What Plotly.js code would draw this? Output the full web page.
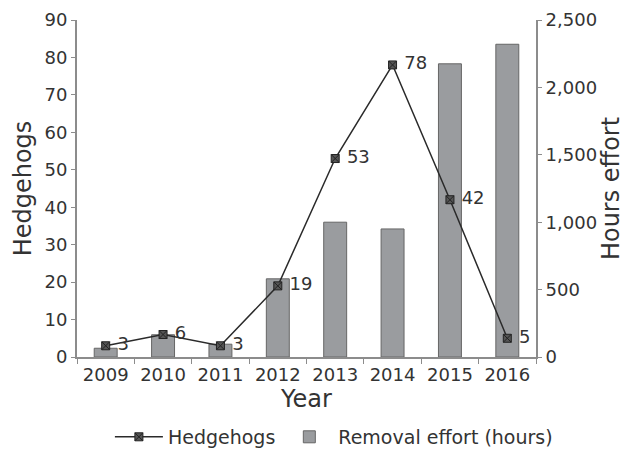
<!DOCTYPE html>
<html><head><meta charset="utf-8">
<script src="https://cdn.plot.ly/plotly-3.0.1.min.js"></script>
<style>body{margin:0;background:#fff}#c{width:630px;height:450px}</style>
</head><body><div id="c"></div>
<script>
const years = ['2009','2010','2011','2012','2013','2014','2015','2016'];
const hedgehogs = [3, 6, 3, 19, 53, 78, 42, 5];
const effortHours = [65, 165, 95, 580, 1000, 950, 2175, 2320];
const hedgehogLabels = hedgehogs.map(v => ' ' + v);

const FONT = 'DejaVu Sans, Liberation Sans, Arial, sans-serif';
const TXT = '#333';
const AX = '#8c8c8c';
const data = [
  {type: 'scatter', mode: 'lines+markers+text', x: years, y: hedgehogs, yaxis: 'y2', name: 'Hedgehogs',
   text: hedgehogLabels, textposition: 'middle right', textfont: {size: 18, color: TXT, family: FONT},
   line: {color: '#2a2a2a', width: 1.5},
   marker: {symbol: 'square-x', size: 8, color: '#555', line: {color: '#222', width: 1}}},
  {type: 'bar', x: years, y: effortHours, yaxis: 'y', name: 'Removal effort (hours)',
   width: 0.4, marker: {color: '#9a9c9f', line: {color: '#666', width: 1}}}
];
const layout = {
  width: 630, height: 450,
  margin: {l: 77, r: 94, t: 20, b: 93},
  paper_bgcolor: '#fff', plot_bgcolor: '#fff',
  font: {family: FONT, size: 18, color: TXT},
  showlegend: true,
  legend: {orientation: 'h', xref: 'container', yref: 'container', x: 0.53, xanchor: 'center',
           y: 0.029, yanchor: 'middle', itemwidth: 48,
           font: {size: 19, color: TXT, family: FONT}},
  xaxis: {type: 'category', showline: true, linecolor: AX, linewidth: 2,
          ticks: 'outside', tickson: 'boundaries', ticklen: 5, tickcolor: AX,
          tickfont: {size: 18, color: TXT}, showgrid: false, zeroline: false,
          title: {text: 'Year', font: {size: 24, color: TXT}, standoff: 2}},
  yaxis: {range: [0, 2500], dtick: 500, side: 'right', showline: true,
          linecolor: AX, linewidth: 2, ticks: 'outside', ticklen: 4, tickcolor: AX,
          tickformat: ',d', showgrid: false, zeroline: false,
          tickfont: {size: 18, color: TXT},
          title: {text: 'Hours effort', font: {size: 24, color: TXT}, standoff: 6}},
  yaxis2: {range: [0, 90], dtick: 10, side: 'left', overlaying: 'y', showline: true,
          linecolor: AX, linewidth: 2, ticks: 'outside', ticklen: 4, tickcolor: AX,
          showgrid: false, zeroline: false, tickfont: {size: 18, color: TXT},
          title: {text: 'Hedgehogs', font: {size: 24, color: TXT}, standoff: 6}}
};
Plotly.newPlot('c', data, layout, {displayModeBar: false});
</script></body></html>
